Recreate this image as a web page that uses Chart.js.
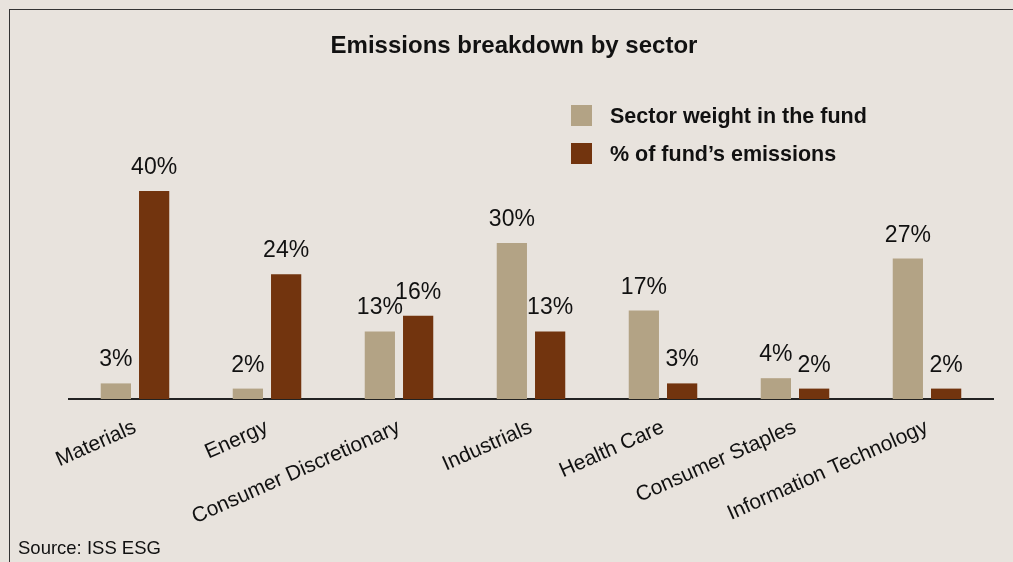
<!DOCTYPE html>
<html>
<head>
<meta charset="utf-8">
<script src="https://cdn.jsdelivr.net/npm/chart.js@4.4.1/dist/chart.umd.min.js"></script>
<style>
    html, body { margin: 0; padding: 0; background: #e8e3dd; }
    #wrap { width: 1013px; height: 562px; }
</style>
</head>
<body>
<div id="wrap"><canvas id="chart" width="1013" height="562"></canvas></div>
<script>
// --- Data ---
const sectors = ['Materials', 'Energy', 'Consumer Discretionary', 'Industrials', 'Health Care', 'Consumer Staples', 'Information Technology'];
const sectorWeight = [3, 2, 13, 30, 17, 4, 27];
const emissionsShare = [40, 24, 16, 13, 3, 2, 2];
const seriesNames = ['Sector weight in the fund', '% of fund\u2019s emissions'];
const chartTitle = 'Emissions breakdown by sector';
const sourceNote = 'Source: ISS ESG';

const TAN = '#b3a385';
const BROWN = '#72340e';
const BG = '#e8e3dd';
const FONT = "'Liberation Sans', Arial, Helvetica, sans-serif";

// Ram, etiketter, titel, legend och källa ritas för hand
const decorations = {
    id: 'decorations',
    beforeDraw(chart) {
        const ctx = chart.ctx;
        ctx.save();
        ctx.fillStyle = BG;
        ctx.fillRect(0, 0, chart.width, chart.height);
        ctx.strokeStyle = '#333';
        ctx.lineWidth = 1;
        ctx.strokeRect(9.5, 9.5, chart.width + 20, chart.height + 20);
        ctx.restore();
    },
    afterDatasetsDraw(chart) {
        const ctx = chart.ctx;
        ctx.save();
        ctx.font = '23px ' + FONT;
        ctx.fillStyle = '#111';
        ctx.textAlign = 'center';
        ctx.textBaseline = 'alphabetic';
        chart.data.datasets.forEach((ds, i) => {
            chart.getDatasetMeta(i).data.forEach((bar, j) => {
                ctx.fillText(ds.data[j] + '%', bar.x, bar.y - 17);
            });
        });
        ctx.restore();
    },
    afterDraw(chart) {
        const ctx = chart.ctx;
        ctx.save();
        ctx.fillStyle = '#111';

        // Titel
        ctx.font = 'bold 24px ' + FONT;
        ctx.textAlign = 'center';
        ctx.textBaseline = 'middle';
        ctx.fillText(chartTitle, 514, 46);

        // Legend
        ctx.textAlign = 'left';
        ctx.font = 'bold 21.5px ' + FONT;
        chart.data.datasets.forEach((ds, i) => {
            const y = 105 + i * 38;
            ctx.fillStyle = ds.backgroundColor;
            ctx.fillRect(571, y, 21, 21);
            ctx.fillStyle = '#111';
            ctx.fillText(ds.label, 610, y + 12);
        });

        // Källa
        ctx.font = '18.5px ' + FONT;
        ctx.fillText(sourceNote, 18, 549);
        ctx.restore();
    }
};

new Chart(document.getElementById('chart'), {
    type: 'bar',
    data: {
        labels: sectors,
        datasets: [
            { label: seriesNames[0], data: sectorWeight, backgroundColor: TAN },
            { label: seriesNames[1], data: emissionsShare, backgroundColor: BROWN }
        ]
    },
    options: {
        responsive: false,
        animation: false,
        layout: { padding: { left: 69, right: 20, top: 165, bottom: 0 } },
        datasets: { bar: { categoryPercentage: 0.58, barPercentage: 0.79 } },
        scales: {
            x: {
                grid: { display: false, drawTicks: false },
                border: { display: true, color: '#222', width: 2 },
                ticks: {
                    color: '#111',
                    font: { family: FONT, size: 21 },
                    minRotation: 24,
                    maxRotation: 24,
                    padding: 16,
                    autoSkip: false
                },
                afterFit(scale) { scale.height = 163; }
            },
            y: {
                display: false,
                min: 0,
                max: 45
            }
        },
        plugins: {
            legend: { display: false },
            title: { display: false },
            tooltip: { enabled: false }
        }
    },
    plugins: [decorations]
});
</script>
</body>
</html>
